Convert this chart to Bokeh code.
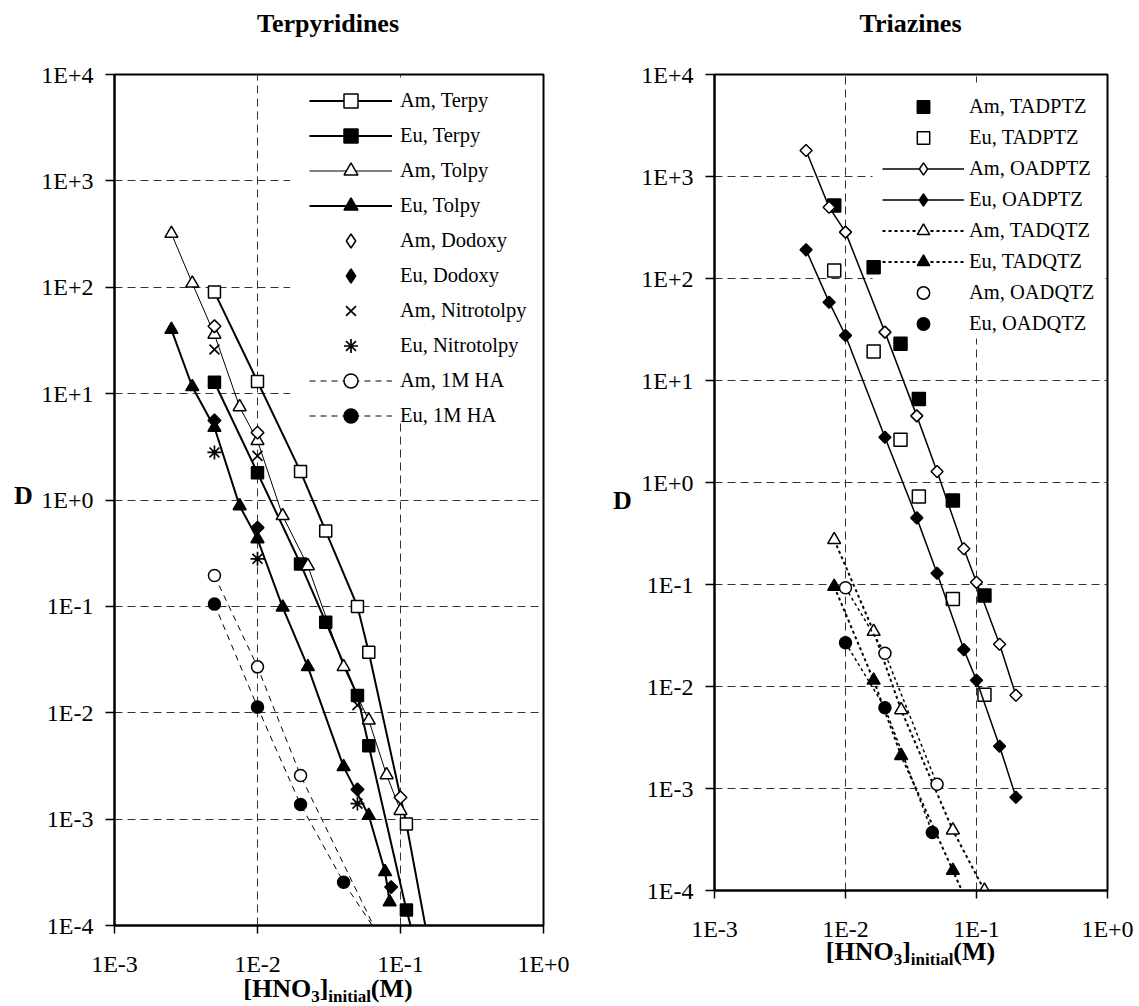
from bokeh.plotting import figure
from bokeh.models import (Legend, LegendItem, FixedTicker, CustomJSTickFormatter,
                          ColumnDataSource, Div, BoxAnnotation)
from bokeh.layouts import row, column
from bokeh.embed import file_html
from bokeh.resources import INLINE
import math

FONT = "Liberation Serif"

# ---------------- tick labels ----------------
x_ticks = [1e-3, 1e-2, 1e-1, 1e0]
x_tick_labels = ["1E-3", "1E-2", "1E-1", "1E+0"]
y_ticks = [1e-4, 1e-3, 1e-2, 1e-1, 1e0, 1e1, 1e2, 1e3, 1e4]
y_tick_labels = ["1E-4", "1E-3", "1E-2", "1E-1", "1E+0", "1E+1", "1E+2", "1E+3", "1E+4"]

# ---------------- Terpyridines (left) ----------------
am_terpy_x = [0.005, 0.01, 0.02, 0.03, 0.05, 0.06, 0.11, 0.2]
am_terpy_y = [90, 13, 1.85, 0.51, 0.1, 0.037, 0.0009, 1.2e-5]
eu_terpy_x = [0.005, 0.01, 0.02, 0.03, 0.05, 0.06, 0.11, 0.15]
eu_terpy_y = [12.8, 1.8, 0.25, 0.071, 0.0145, 0.0049, 0.00014, 3e-5]
am_tolpy_x = [0.0025, 0.0035, 0.005, 0.0075, 0.01, 0.015, 0.0225, 0.04, 0.06, 0.08, 0.1]
am_tolpy_y = [320, 109, 36, 7.5, 3.6, 0.71, 0.24, 0.027, 0.0085, 0.0026, 0.0012]
eu_tolpy_x = [0.0025, 0.0035, 0.005, 0.0075, 0.01, 0.015, 0.0225, 0.04, 0.06, 0.078, 0.084]
eu_tolpy_y = [40, 11.6, 4.8, 0.88, 0.43, 0.098, 0.027, 0.0031, 0.00108, 0.00032, 0.000166]
am_dodoxy_x = [0.005, 0.01, 0.1]
am_dodoxy_y = [43, 4.3, 0.0016]
eu_dodoxy_x = [0.005, 0.01, 0.05, 0.086]
eu_dodoxy_y = [5.6, 0.55, 0.0019, 0.00023]
am_nitro_x = [0.005, 0.01, 0.05]
am_nitro_y = [26, 2.6, 0.0118]
eu_nitro_x = [0.005, 0.01, 0.05]
eu_nitro_y = [2.8, 0.28, 0.0014]
am_ha_x = [0.005, 0.01, 0.02, 0.1]
am_ha_y = [0.195, 0.027, 0.00257, 3e-5]
eu_ha_x = [0.005, 0.01, 0.02, 0.04, 0.1]
eu_ha_y = [0.105, 0.0113, 0.00137, 0.000255, 4e-5]

# ---------------- Triazines (right) ----------------
tadptz_x = [0.0082, 0.0164, 0.0263, 0.0363, 0.066, 0.115]
am_tadptz_y = [520, 129, 22.9, 6.6, 0.667, 0.078]
eu_tadptz_y = [120, 19.2, 2.62, 0.73, 0.072, 0.0083]
oadptz_x = [0.005, 0.0075, 0.01, 0.02, 0.035, 0.05, 0.08, 0.1, 0.15, 0.2]
am_oadptz_y = [1800, 500, 285, 29.8, 4.5, 1.28, 0.224, 0.105, 0.026, 0.0082]
eu_oadptz_y = [191, 58.6, 27.6, 2.78, 0.45, 0.129, 0.023, 0.0115, 0.0026, 0.00082]
tadqtz_x = [0.0082, 0.0164, 0.0266, 0.066, 0.115]
am_tadqtz_y = [0.274, 0.0346, 0.0059, 0.00039, 0.0001]
eu_tadqtz_y = [0.0955, 0.0115, 0.0021, 0.000157, 3.2e-5]
am_oadqtz_x = [0.01, 0.02, 0.05]
am_oadqtz_y = [0.093, 0.0212, 0.0011]
eu_oadqtz_x = [0.01, 0.02, 0.046]
eu_oadqtz_y = [0.0268, 0.0062, 0.00037]

TICK_CODE = """
let best = 0, bd = Infinity;
for (let i = 0; i < tvals.length; i++) {
  const d = Math.abs(Math.log10(tvals[i]) - Math.log10(tick));
  if (d < bd) { bd = d; best = i; }
}
return tlabels[best];
"""


def make_fig(width, height, bl, br, bt, bb):
    p = figure(width=width, height=height, x_axis_type="log", y_axis_type="log",
               x_range=(1e-3, 1.0), y_range=(1e-4, 1e4), output_backend="svg",
               toolbar_location=None, title=None,
               min_border_left=bl, min_border_right=br,
               min_border_top=bt, min_border_bottom=bb)
    p.background_fill_color = "white"
    p.border_fill_color = "white"
    p.outline_line_color = "black"
    p.outline_line_width = 2
    for ax, ticks, labels, tout, stand in ((p.xaxis[0], x_ticks, x_tick_labels, 8, 17),
                                           (p.yaxis[0], y_ticks, y_tick_labels, 9, 12)):
        ax.ticker = FixedTicker(ticks=ticks, minor_ticks=[])
        ax.formatter = CustomJSTickFormatter(args=dict(tvals=ticks, tlabels=labels), code=TICK_CODE)
        ax.major_label_text_font = FONT
        ax.major_label_text_font_size = "24px"
        ax.major_label_text_color = "black"
        ax.axis_line_color = "black"
        ax.axis_line_width = 2
        ax.major_tick_line_color = "black"
        ax.major_tick_line_width = 1.5
        ax.major_tick_out = tout
        ax.major_tick_in = 0
        ax.minor_tick_out = 0
        ax.minor_tick_in = 0
        ax.major_label_standoff = stand
    for g in (p.xgrid[0], p.ygrid[0]):
        g.grid_line_color = "#333333"
        g.grid_line_width = 1
        g.grid_line_dash = "8 5"
    return p


def legend_bg(p, fx0, fw, fy0, fh, px0, px1, py0, py1):
    """white box hiding the grid behind a legend (pixel box -> data coords)"""
    ix = lambda px: 10 ** (-3 + 3 * (px - fx0) / fw)
    iy = lambda py: 10 ** (4 - 8 * (py - fy0) / fh)
    p.add_layout(BoxAnnotation(left=ix(px0), right=ix(px1), top=iy(py0), bottom=iy(py1),
                               fill_color="white", fill_alpha=1.0, line_color=None,
                               level="underlay"))


def series(p, x, y, marker, fill, size, lw=None, dash="solid", mlw=1.5, angle=0.0, legend_marker=None):
    src = ColumnDataSource(dict(x=x, y=y))
    rs = []
    if lw:
        rs.append(p.line("x", "y", source=src, line_color="black", line_width=lw, line_dash=dash))
    m = p.scatter("x", "y", source=src, marker=marker, size=size, fill_color=fill,
                  line_color="black", line_width=mlw, angle=angle)
    if legend_marker:
        # zero-size twin glyph: invisible on the plot, but gives the legend an upright marker
        m = p.scatter("x", "y", source=src, marker=legend_marker, size=0, fill_color=fill,
                      line_color="black", line_width=mlw)
    rs.append(m)
    return rs


def add_legend(p, items, x, y, row_h, glyph_w, standoff):
    leg = Legend(items=[LegendItem(label=l, renderers=r) for l, r in items],
                 location=(x, y), padding=8, margin=0, spacing=0,
                 label_height=row_h, glyph_height=row_h, glyph_width=glyph_w,
                 label_standoff=standoff, label_text_font=FONT,
                 label_text_font_size="20.5px", label_text_color="black",
                 background_fill_alpha=0.0, border_line_color=None)
    p.add_layout(leg)


BOLD = f"font-family:'{FONT}'; font-weight:bold; color:black; white-space:nowrap;"
SUB = "font-size:17px; position:relative; top:5px;"


def text_div(inner, width, height, left, w_text, pad_top, lh=30, align="center"):
    html = (f'<div style="{BOLD} font-size:26px; line-height:{lh}px; margin-left:{left}px; '
            f'width:{w_text}px; text-align:{align}; padding-top:{pad_top}px;">{inner}</div>')
    return Div(text=html, width=width, height=height, margin=0, styles={"overflow": "visible"})


XLABEL = f'[HNO<span style="{SUB}">3</span>]<span style="{SUB}">initial</span>(M)'
SQ45 = math.pi / 4

# ================= left figure =================
p1 = make_fig(540, 931, 75, 35, 26, 54)
legend_bg(p1, 113, 430, 74, 851, 289, 541, 77, 422)
L = []
L.append(("Am, Terpy", series(p1, am_terpy_x, am_terpy_y, "square", "white", 12, lw=2)))
L.append(("Eu, Terpy", series(p1, eu_terpy_x, eu_terpy_y, "square", "black", 12, lw=2)))
L.append(("Am, Tolpy", series(p1, am_tolpy_x, am_tolpy_y, "triangle", "white", 13, lw=1)))
L.append(("Eu, Tolpy", series(p1, eu_tolpy_x, eu_tolpy_y, "triangle", "black", 13, lw=2)))
L.append(("Am, Dodoxy", series(p1, am_dodoxy_x, am_dodoxy_y, "square", "white", 9, angle=SQ45, legend_marker="diamond")))
L.append(("Eu, Dodoxy", series(p1, eu_dodoxy_x, eu_dodoxy_y, "square", "black", 9, angle=SQ45, legend_marker="diamond")))
L.append(("Am, Nitrotolpy", series(p1, am_nitro_x, am_nitro_y, "x", "white", 14, mlw=1.7)))
L.append(("Eu, Nitrotolpy", series(p1, eu_nitro_x, eu_nitro_y, "asterisk", "white", 14, mlw=1.7)))
L.append(("Am, 1M HA", series(p1, am_ha_x, am_ha_y, "circle", "white", 12, lw=1, dash="6 5")))
L.append(("Eu, 1M HA", series(p1, eu_ha_x, eu_ha_y, "circle", "black", 12, lw=1, dash="6 5")))
add_legend(p1, L, 195, 492.5, 35, 83, 8)

t1 = text_div("Terpyridines", 578, 48, 113, 430, 9)
d1 = text_div("D", 38, 931, 14, 24, 433, align="left")
x1 = text_div(XLABEL, 578, 26, 113, 430, 2, lh=16)
left_col = column(t1, row(d1, p1), x1)

# ================= right figure =================
p2 = make_fig(502, 896, 77, 32, 26, 54)
legend_bg(p2, 714, 393, 74, 816, 872, 1105, 82, 338)
R = []
R.append(("Am, TADPTZ", series(p2, tadptz_x, am_tadptz_y, "square", "black", 13)))
R.append(("Eu, TADPTZ", series(p2, tadptz_x, eu_tadptz_y, "square", "white", 13)))
R.append(("Am, OADPTZ", series(p2, oadptz_x, am_oadptz_y, "square", "white", 8.5, lw=1.5, angle=SQ45, legend_marker="diamond")))
R.append(("Eu, OADPTZ", series(p2, oadptz_x, eu_oadptz_y, "square", "black", 8.5, lw=1.5, angle=SQ45, legend_marker="diamond")))
R.append(("Am, TADQTZ", series(p2, tadqtz_x, am_tadqtz_y, "triangle", "white", 13, lw=2, dash="3 3")))
R.append(("Eu, TADQTZ", series(p2, tadqtz_x, eu_tadqtz_y, "triangle", "black", 13, lw=2, dash="3 3")))
am_oq = series(p2, am_oadqtz_x, am_oadqtz_y, "circle", "white", 12, lw=1.5, dash="3 3")
eu_oq = series(p2, eu_oadqtz_x, eu_oadqtz_y, "circle", "black", 12, lw=1.5, dash="3 3")
R.append(("Am, OADQTZ", [am_oq[-1]]))
R.append(("Eu, OADQTZ", [eu_oq[-1]]))
add_legend(p2, R, 168, 550.8, 31, 82, 5)

t2 = text_div("Triazines", 561, 48, 136, 393, 9)
d2 = text_div("D", 59, 896, 35, 24, 438, align="left")
x2 = text_div(XLABEL, 561, 40, 136, 393, 0, lh=16)
right_col = column(t2, row(d2, p2), x2)

layout = row(left_col, right_col)
open("out.html", "w").write(file_html(layout, INLINE))
